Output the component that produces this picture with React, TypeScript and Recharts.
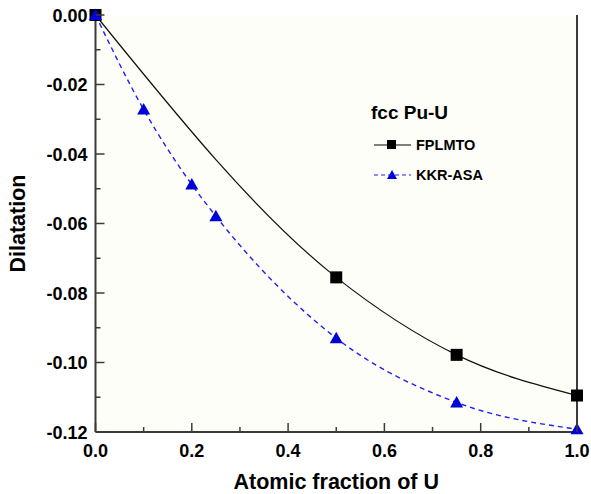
import { LineChart, Line, XAxis, YAxis, CartesianGrid } from "recharts";

const xTicks = [0, 0.1, 0.2, 0.3, 0.4, 0.5, 0.6, 0.7, 0.8, 0.9, 1.0];
const yTicks = [0, -0.01, -0.02, -0.03, -0.04, -0.05, -0.06, -0.07, -0.08, -0.09, -0.1, -0.11, -0.12];

const fplmtoX = [0, 0.5, 0.75, 1.0];
const fplmtoY = [0, -0.0755, -0.0978, -0.1095];

const kkrX = [0, 0.1, 0.2, 0.25, 0.5, 0.75, 1.0];
const kkrY = [0, -0.0272, -0.0488, -0.0579, -0.093, -0.1115, -0.1192];

const fplmto = fplmtoX.map((x, i) => ({ x, y: fplmtoY[i] }));
const kkr = kkrX.map((x, i) => ({ x, y: kkrY[i] }));

const FONT = '"Liberation Sans", Arial, Helvetica, sans-serif';
const AXIS = "#3a3a3a";
const BLUE = "#1f1ff0";
const MARK_BLUE = "#0000d8";

const isMajorX = (v: number) => Math.round(v * 10) % 2 === 0;
const isMajorY = (v: number) => Math.abs(Math.round(v * 100)) % 2 === 0;

const BottomTick = ({ x, y, payload }: any) => {
  const major = isMajorX(payload.value);
  return (
    <g>
      <line x1={x} x2={x} y1={y} y2={y - (major ? 9 : 5)} stroke={AXIS} strokeWidth={1.5} />
      {major && (
        <text x={x} y={y + 25} textAnchor="middle" fontFamily={FONT} fontWeight="bold" fontSize={18} fill="#000">
          {payload.value.toFixed(1)}
        </text>
      )}
    </g>
  );
};

const TopTick = ({ x, y, payload }: any) => (
  <line x1={x} x2={x} y1={y} y2={y + (isMajorX(payload.value) ? 9 : 5)} stroke={AXIS} strokeWidth={1.5} />
);

const LeftTick = ({ x, y, payload }: any) => {
  const major = isMajorY(payload.value);
  return (
    <g>
      <line x1={x} x2={x + (major ? 9 : 5)} y1={y} y2={y} stroke={AXIS} strokeWidth={1.5} />
      {major && (
        <text x={x - 8} y={y + 6.5} textAnchor="end" fontFamily={FONT} fontWeight="bold" fontSize={18} fill="#000">
          {payload.value.toFixed(2)}
        </text>
      )}
    </g>
  );
};

const RightTick = ({ x, y, payload }: any) => (
  <line x1={x} x2={x - (isMajorY(payload.value) ? 9 : 5)} y1={y} y2={y} stroke={AXIS} strokeWidth={1.5} />
);

const squareDot = (p: any) => (
  <rect key={`sq-${p.index}`} x={p.cx - 6} y={p.cy - 6} width={12} height={12} fill="#000" />
);

const triDot = (p: any) => (
  <path
    key={`tr-${p.index}`}
    d={`M${p.cx},${p.cy - 6.5} L${p.cx + 6.5},${p.cy + 5} L${p.cx - 6.5},${p.cy + 5} Z`}
    fill={MARK_BLUE}
  />
);

function ChartLegend() {
  return (
    <svg width={200} height={100} style={{ position: "absolute", left: 355, top: 92 }}>
      <text x={16} y={27} fontFamily={FONT} fontWeight="bold" fontSize={19} fill="#000">
        fcc Pu-U
      </text>
      <line x1={19} x2={56} y1={53} y2={53} stroke="#000" strokeWidth={1.2} />
      <rect x={32} y={48} width={9} height={9} fill="#000" />
      <text x={61} y={58} fontFamily={FONT} fontWeight="bold" fontSize={14.5} fill="#000">
        FPLMTO
      </text>
      <line x1={19} x2={56} y1={83} y2={83} stroke={BLUE} strokeWidth={1.2} strokeDasharray="4 3" />
      <path d="M37,78 L42,87 L32,87 Z" fill={MARK_BLUE} />
      <text x={61} y={88} fontFamily={FONT} fontWeight="bold" fontSize={14.5} fill="#000">
        KKR-ASA
      </text>
    </svg>
  );
}

export default function App() {
  return (
    <div style={{ position: "absolute", left: 0, top: 0, width: 591, height: 494, background: "#fff" }}>
      <LineChart width={591} height={494} margin={{ top: 15, right: 0, bottom: 0, left: 0 }}>
        <CartesianGrid horizontal={false} vertical={false} fill="#fefef9" />
        <XAxis
          xAxisId="bottom"
          dataKey="x"
          type="number"
          domain={[0, 1]}
          ticks={xTicks}
          interval={0}
          height={62}
          tickSize={0}
          tickMargin={0}
          tickLine={false}
          tick={BottomTick}
          axisLine={{ stroke: AXIS, strokeWidth: 2 }}
          label={{ value: "Atomic fraction of U", position: "insideBottom", offset: 5, fontFamily: FONT, fontWeight: "bold", fontSize: 21.5, fill: "#000" }}
        />
        <XAxis
          xAxisId="top"
          orientation="top"
          dataKey="x"
          type="number"
          domain={[0, 1]}
          ticks={xTicks}
          interval={0}
          height={0}
          tickSize={0}
          tickMargin={0}
          tickLine={false}
          tick={TopTick}
          axisLine={{ stroke: AXIS, strokeWidth: 2 }}
        />
        <YAxis
          yAxisId="left"
          type="number"
          domain={[-0.12, 0]}
          ticks={yTicks}
          interval={0}
          width={95.5}
          tickSize={0}
          tickMargin={0}
          tickLine={false}
          tick={LeftTick}
          axisLine={{ stroke: AXIS, strokeWidth: 2 }}
          label={{
            content: (p: any) => {
              const cy = p.viewBox.y + p.viewBox.height / 2;
              return (
                <text x={25} y={cy} transform={`rotate(-90 25 ${cy})`} textAnchor="middle" fontFamily={FONT} fontWeight="bold" fontSize={21.5} fill="#000">
                  Dilatation
                </text>
              );
            },
          }}
        />
        <YAxis
          yAxisId="right"
          orientation="right"
          type="number"
          domain={[-0.12, 0]}
          ticks={yTicks}
          interval={0}
          width={14}
          tickSize={0}
          tickMargin={0}
          tickLine={false}
          tick={RightTick}
          axisLine={{ stroke: AXIS, strokeWidth: 2 }}
        />
        <Line
          xAxisId="bottom"
          yAxisId="left"
          data={fplmto}
          dataKey="y"
          type="monotone"
          stroke="#111"
          strokeWidth={1.2}
          dot={squareDot}
          activeDot={false}
          isAnimationActive={false}
        />
        <Line
          xAxisId="bottom"
          yAxisId="left"
          data={kkr}
          dataKey="y"
          type="monotone"
          stroke={BLUE}
          strokeWidth={1.4}
          strokeDasharray="5 4"
          dot={triDot}
          activeDot={false}
          isAnimationActive={false}
        />
      </LineChart>
      <ChartLegend />
    </div>
  );
}
